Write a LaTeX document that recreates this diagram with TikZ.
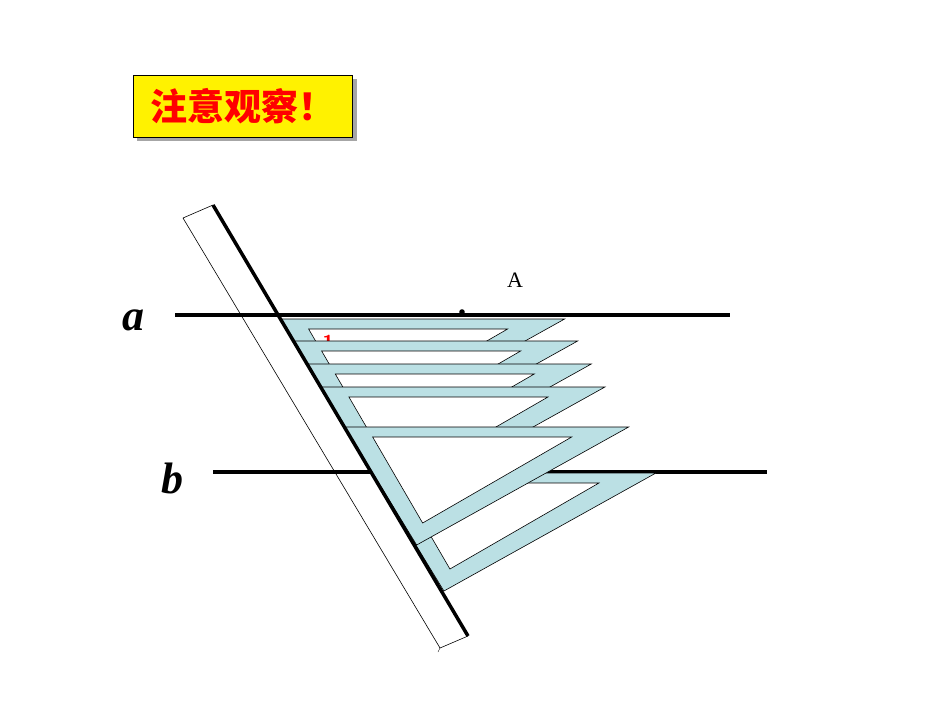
\documentclass[tikz,border=0pt]{standalone}
\usepackage{fontspec}
\setmainfont{Liberation Serif}
\newfontfamily\cjk{Noto Sans CJK SC}
\definecolor{tri}{RGB}{187,224,228}
\begin{document}
\begin{tikzpicture}[x=1pt,y=-1pt,
  tribox/.style={fill=tri,draw=black,line width=0.6pt},
  holebox/.style={fill=white,draw=black,line width=0.6pt},
  thick line/.style={line width=3.5pt}]
\useasboundingbox (0,0) rectangle (950,713);
% title
\fill[gray!70] (137,79) rectangle (357,141);
\node[draw=black,fill=yellow,minimum width=219pt,minimum height=62pt,anchor=north west,inner sep=0pt,
  font=\cjk\bfseries\fontsize{37}{40}\selectfont,text=red] (title) at (133,75) {注意观察！};
% ruler
\draw[line width=0.6pt] (183,218) -- (213,205) (183,218) -- (440,648) -- (468,636);
\draw[line width=0.4pt] (440,648) -- (438,652);
% lines
\coordinate (a1) at (175,315); \coordinate (a2) at (730,315);
\coordinate (b1) at (213,472); \coordinate (b2) at (767,472);
\draw[thick line] (a1) -- (a2);
\draw[thick line] (b1) -- (b2);
\fill (462,312) circle (2.8pt);
\node[font=\fontsize{22}{24}\selectfont] (A) at (515,280) {A};
\node[font=\bfseries\itshape\fontsize{44}{48}\selectfont] (la) at (133,320) {a};
\node[font=\bfseries\itshape\fontsize{44}{48}\selectfont] (lb) at (172,478) {b};
% triangles
\newcommand\settri[1]{%
  \pgfmathsetmacro\tx{213+0.593*(#1-205)}%
  \path[tribox] (\tx,#1) -- ++(284,0) -- ++(-212,118) -- cycle;
  \path[holebox] (\tx+28,#1+10) -- (\tx+227,#1+10) -- (\tx+78,#1+96) -- cycle;}
\settri{319}
\node[text=red,font=\sffamily\bfseries\fontsize{20}{20}\selectfont] (one) at (328,342) {1};
\settri{341}
\settri{364}
\settri{387}
\settri{473}
\settri{427}
\draw[line width=3.5pt] (213,205) -- (468,636);
\end{tikzpicture}
\end{document}
